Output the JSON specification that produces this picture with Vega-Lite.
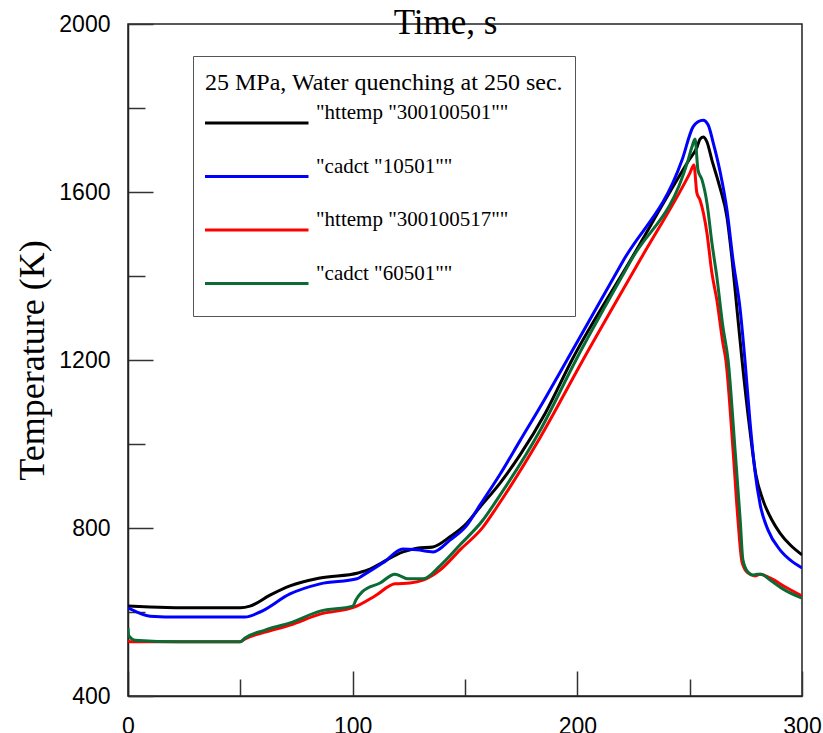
{
  "$schema": "https://vega.github.io/schema/vega-lite/v6.json",
  "width": 674,
  "height": 672,
  "autosize": {"type": "none"},
  "padding": {"left": 128, "top": 24, "right": 21, "bottom": 37},
  "background": "white",
  "config": {
    "view": {"stroke": "#222", "strokeWidth": 1.5},
    "axis": {"grid": false}
  },
  "data": {
    "values": [
      {"series": "\"httemp \"300100501\"\"", "t": 0, "temp": 614},
      {"series": "\"httemp \"300100501\"\"", "t": 9.8, "temp": 612},
      {"series": "\"httemp \"300100501\"\"", "t": 32, "temp": 610},
      {"series": "\"httemp \"300100501\"\"", "t": 50, "temp": 610},
      {"series": "\"httemp \"300100501\"\"", "t": 54.3, "temp": 614},
      {"series": "\"httemp \"300100501\"\"", "t": 63.2, "temp": 640},
      {"series": "\"httemp \"300100501\"\"", "t": 72.1, "temp": 662},
      {"series": "\"httemp \"300100501\"\"", "t": 85.5, "temp": 681},
      {"series": "\"httemp \"300100501\"\"", "t": 102.4, "temp": 693},
      {"series": "\"httemp \"300100501\"\"", "t": 107.7, "temp": 702},
      {"series": "\"httemp \"300100501\"\"", "t": 113.5, "temp": 719},
      {"series": "\"httemp \"300100501\"\"", "t": 122.4, "temp": 743},
      {"series": "\"httemp \"300100501\"\"", "t": 128.6, "temp": 752},
      {"series": "\"httemp \"300100501\"\"", "t": 135.8, "temp": 755},
      {"series": "\"httemp \"300100501\"\"", "t": 143.3, "temp": 779},
      {"series": "\"httemp \"300100501\"\"", "t": 150.9, "temp": 812},
      {"series": "\"httemp \"300100501\"\"", "t": 156.7, "temp": 850},
      {"series": "\"httemp \"300100501\"\"", "t": 165.6, "temp": 907},
      {"series": "\"httemp \"300100501\"\"", "t": 174.5, "temp": 974},
      {"series": "\"httemp \"300100501\"\"", "t": 185.6, "temp": 1072},
      {"series": "\"httemp \"300100501\"\"", "t": 197.6, "temp": 1200},
      {"series": "\"httemp \"300100501\"\"", "t": 223.7, "temp": 1438},
      {"series": "\"httemp \"300100501\"\"", "t": 249.7, "temp": 1676},
      {"series": "\"httemp \"300100501\"\"", "t": 253.3, "temp": 1707},
      {"series": "\"httemp \"300100501\"\"", "t": 254.6, "temp": 1726},
      {"series": "\"httemp \"300100501\"\"", "t": 256, "temp": 1731},
      {"series": "\"httemp \"300100501\"\"", "t": 257.7, "temp": 1719},
      {"series": "\"httemp \"300100501\"\"", "t": 259.9, "temp": 1676},
      {"series": "\"httemp \"300100501\"\"", "t": 263.4, "temp": 1612},
      {"series": "\"httemp \"300100501\"\"", "t": 266.6, "temp": 1540},
      {"series": "\"httemp \"300100501\"\"", "t": 268.9, "temp": 1438},
      {"series": "\"httemp \"300100501\"\"", "t": 271.1, "temp": 1319},
      {"series": "\"httemp \"300100501\"\"", "t": 273.3, "temp": 1200},
      {"series": "\"httemp \"300100501\"\"", "t": 276.8, "temp": 1033},
      {"series": "\"httemp \"300100501\"\"", "t": 279.5, "temp": 926},
      {"series": "\"httemp \"300100501\"\"", "t": 282.6, "temp": 867},
      {"series": "\"httemp \"300100501\"\"", "t": 286.6, "temp": 819},
      {"series": "\"httemp \"300100501\"\"", "t": 290.2, "temp": 788},
      {"series": "\"httemp \"300100501\"\"", "t": 294.7, "temp": 760},
      {"series": "\"httemp \"300100501\"\"", "t": 300, "temp": 736},

      {"series": "\"cadct \"10501\"\"", "t": 0, "temp": 610},
      {"series": "\"cadct \"10501\"\"", "t": 3.1, "temp": 602},
      {"series": "\"cadct \"10501\"\"", "t": 9.8, "temp": 590},
      {"series": "\"cadct \"10501\"\"", "t": 23.1, "temp": 588},
      {"series": "\"cadct \"10501\"\"", "t": 52.1, "temp": 588},
      {"series": "\"cadct \"10501\"\"", "t": 58.8, "temp": 600},
      {"series": "\"cadct \"10501\"\"", "t": 72.1, "temp": 643},
      {"series": "\"cadct \"10501\"\"", "t": 85.5, "temp": 667},
      {"series": "\"cadct \"10501\"\"", "t": 101.9, "temp": 679},
      {"series": "\"cadct \"10501\"\"", "t": 104.2, "temp": 686},
      {"series": "\"cadct \"10501\"\"", "t": 113.5, "temp": 717},
      {"series": "\"cadct \"10501\"\"", "t": 122.4, "temp": 750},
      {"series": "\"cadct \"10501\"\"", "t": 128.6, "temp": 748},
      {"series": "\"cadct \"10501\"\"", "t": 135.8, "temp": 743},
      {"series": "\"cadct \"10501\"\"", "t": 143.3, "temp": 771},
      {"series": "\"cadct \"10501\"\"", "t": 150.9, "temp": 807},
      {"series": "\"cadct \"10501\"\"", "t": 156.7, "temp": 855},
      {"series": "\"cadct \"10501\"\"", "t": 165.6, "temp": 928},
      {"series": "\"cadct \"10501\"\"", "t": 174.5, "temp": 1008},
      {"series": "\"cadct \"10501\"\"", "t": 185.6, "temp": 1108},
      {"series": "\"cadct \"10501\"\"", "t": 195.4, "temp": 1200},
      {"series": "\"cadct \"10501\"\"", "t": 220.6, "temp": 1438},
      {"series": "\"cadct \"10501\"\"", "t": 246.6, "temp": 1676},
      {"series": "\"cadct \"10501\"\"", "t": 251.5, "temp": 1755},
      {"series": "\"cadct \"10501\"\"", "t": 253.7, "temp": 1767},
      {"series": "\"cadct \"10501\"\"", "t": 256, "temp": 1771},
      {"series": "\"cadct \"10501\"\"", "t": 258.2, "temp": 1760},
      {"series": "\"cadct \"10501\"\"", "t": 260.4, "temp": 1719},
      {"series": "\"cadct \"10501\"\"", "t": 263.4, "temp": 1652},
      {"series": "\"cadct \"10501\"\"", "t": 266.6, "temp": 1557},
      {"series": "\"cadct \"10501\"\"", "t": 269.3, "temp": 1438},
      {"series": "\"cadct \"10501\"\"", "t": 272.5, "temp": 1319},
      {"series": "\"cadct \"10501\"\"", "t": 274.6, "temp": 1200},
      {"series": "\"cadct \"10501\"\"", "t": 276.8, "temp": 1057},
      {"series": "\"cadct \"10501\"\"", "t": 279, "temp": 938},
      {"series": "\"cadct \"10501\"\"", "t": 281.4, "temp": 855},
      {"series": "\"cadct \"10501\"\"", "t": 284.9, "temp": 795},
      {"series": "\"cadct \"10501\"\"", "t": 290.2, "temp": 748},
      {"series": "\"cadct \"10501\"\"", "t": 294.7, "temp": 724},
      {"series": "\"cadct \"10501\"\"", "t": 300, "temp": 705},

      {"series": "\"httemp \"300100517\"\"", "t": 0, "temp": 533},
      {"series": "\"httemp \"300100517\"\"", "t": 0.9, "temp": 529},
      {"series": "\"httemp \"300100517\"\"", "t": 49.9, "temp": 529},
      {"series": "\"httemp \"300100517\"\"", "t": 52.1, "temp": 536},
      {"series": "\"httemp \"300100517\"\"", "t": 61, "temp": 552},
      {"series": "\"httemp \"300100517\"\"", "t": 72.1, "temp": 569},
      {"series": "\"httemp \"300100517\"\"", "t": 85.5, "temp": 595},
      {"series": "\"httemp \"300100517\"\"", "t": 101, "temp": 612},
      {"series": "\"httemp \"300100517\"\"", "t": 109.9, "temp": 638},
      {"series": "\"httemp \"300100517\"\"", "t": 118.8, "temp": 667},
      {"series": "\"httemp \"300100517\"\"", "t": 125.5, "temp": 669},
      {"series": "\"httemp \"300100517\"\"", "t": 131.3, "temp": 676},
      {"series": "\"httemp \"300100517\"\"", "t": 138.9, "temp": 700},
      {"series": "\"httemp \"300100517\"\"", "t": 147.8, "temp": 748},
      {"series": "\"httemp \"300100517\"\"", "t": 158, "temp": 802},
      {"series": "\"httemp \"300100517\"\"", "t": 164.2, "temp": 850},
      {"series": "\"httemp \"300100517\"\"", "t": 183.4, "temp": 1015},
      {"series": "\"httemp \"300100517\"\"", "t": 202.5, "temp": 1200},
      {"series": "\"httemp \"300100517\"\"", "t": 227.9, "temp": 1438},
      {"series": "\"httemp \"300100517\"\"", "t": 250.1, "temp": 1645},
      {"series": "\"httemp \"300100517\"\"", "t": 251.9, "temp": 1664},
      {"series": "\"httemp \"300100517\"\"", "t": 253.2, "temp": 1598},
      {"series": "\"httemp \"300100517\"\"", "t": 254.6, "temp": 1581},
      {"series": "\"httemp \"300100517\"\"", "t": 257.7, "temp": 1502},
      {"series": "\"httemp \"300100517\"\"", "t": 259.9, "temp": 1407},
      {"series": "\"httemp \"300100517\"\"", "t": 262.1, "temp": 1343},
      {"series": "\"httemp \"300100517\"\"", "t": 264.8, "temp": 1240},
      {"series": "\"httemp \"300100517\"\"", "t": 266.1, "temp": 1200},
      {"series": "\"httemp \"300100517\"\"", "t": 269.3, "temp": 986},
      {"series": "\"httemp \"300100517\"\"", "t": 271.5, "temp": 819},
      {"series": "\"httemp \"300100517\"\"", "t": 273.3, "temp": 719},
      {"series": "\"httemp \"300100517\"\"", "t": 275.9, "temp": 693},
      {"series": "\"httemp \"300100517\"\"", "t": 279, "temp": 686},
      {"series": "\"httemp \"300100517\"\"", "t": 281.3, "temp": 690},
      {"series": "\"httemp \"300100517\"\"", "t": 285.8, "temp": 681},
      {"series": "\"httemp \"300100517\"\"", "t": 292.4, "temp": 660},
      {"series": "\"httemp \"300100517\"\"", "t": 300, "temp": 638},

      {"series": "\"cadct \"60501\"\"", "t": 0, "temp": 562},
      {"series": "\"cadct \"60501\"\"", "t": 0.4, "temp": 543},
      {"series": "\"cadct \"60501\"\"", "t": 3.1, "temp": 533},
      {"series": "\"cadct \"60501\"\"", "t": 23.1, "temp": 529},
      {"series": "\"cadct \"60501\"\"", "t": 49.9, "temp": 529},
      {"series": "\"cadct \"60501\"\"", "t": 52.1, "temp": 538},
      {"series": "\"cadct \"60501\"\"", "t": 61, "temp": 557},
      {"series": "\"cadct \"60501\"\"", "t": 72.1, "temp": 574},
      {"series": "\"cadct \"60501\"\"", "t": 85.5, "temp": 602},
      {"series": "\"cadct \"60501\"\"", "t": 100.1, "temp": 614},
      {"series": "\"cadct \"60501\"\"", "t": 101.5, "temp": 629},
      {"series": "\"cadct \"60501\"\"", "t": 104.2, "temp": 648},
      {"series": "\"cadct \"60501\"\"", "t": 112.2, "temp": 669},
      {"series": "\"cadct \"60501\"\"", "t": 118.8, "temp": 690},
      {"series": "\"cadct \"60501\"\"", "t": 121.1, "temp": 686},
      {"series": "\"cadct \"60501\"\"", "t": 124.6, "temp": 679},
      {"series": "\"cadct \"60501\"\"", "t": 131.3, "temp": 679},
      {"series": "\"cadct \"60501\"\"", "t": 138.9, "temp": 710},
      {"series": "\"cadct \"60501\"\"", "t": 147.8, "temp": 760},
      {"series": "\"cadct \"60501\"\"", "t": 158, "temp": 819},
      {"series": "\"cadct \"60501\"\"", "t": 164.2, "temp": 867},
      {"series": "\"cadct \"60501\"\"", "t": 183.4, "temp": 1032},
      {"series": "\"cadct \"60501\"\"", "t": 199.4, "temp": 1200},
      {"series": "\"cadct \"60501\"\"", "t": 224, "temp": 1438},
      {"series": "\"cadct \"60501\"\"", "t": 249.3, "temp": 1676},
      {"series": "\"cadct \"60501\"\"", "t": 251, "temp": 1707},
      {"series": "\"cadct \"60501\"\"", "t": 252.4, "temp": 1726},
      {"series": "\"cadct \"60501\"\"", "t": 253.7, "temp": 1652},
      {"series": "\"cadct \"60501\"\"", "t": 255.5, "temp": 1629},
      {"series": "\"cadct \"60501\"\"", "t": 257.7, "temp": 1574},
      {"series": "\"cadct \"60501\"\"", "t": 259.9, "temp": 1479},
      {"series": "\"cadct \"60501\"\"", "t": 262.1, "temp": 1398},
      {"series": "\"cadct \"60501\"\"", "t": 264.8, "temp": 1279},
      {"series": "\"cadct \"60501\"\"", "t": 267.1, "temp": 1200},
      {"series": "\"cadct \"60501\"\"", "t": 270.2, "temp": 986},
      {"series": "\"cadct \"60501\"\"", "t": 272.5, "temp": 819},
      {"series": "\"cadct \"60501\"\"", "t": 273.7, "temp": 724},
      {"series": "\"cadct \"60501\"\"", "t": 275.9, "temp": 695},
      {"series": "\"cadct \"60501\"\"", "t": 278.2, "temp": 688},
      {"series": "\"cadct \"60501\"\"", "t": 280, "temp": 690},
      {"series": "\"cadct \"60501\"\"", "t": 281.7, "temp": 690},
      {"series": "\"cadct \"60501\"\"", "t": 285.8, "temp": 676},
      {"series": "\"cadct \"60501\"\"", "t": 292.4, "temp": 652},
      {"series": "\"cadct \"60501\"\"", "t": 300, "temp": 633}
    ]
  },
  "mark": {"type": "line", "strokeWidth": 3, "interpolate": "monotone", "clip": true},
  "encoding": {
    "x": {
      "field": "t", "type": "quantitative",
      "scale": {"domain": [0, 300], "nice": false, "zero": false},
      "axis": {
        "orient": "bottom",
        "values": [0, 50, 100, 150, 200, 250, 300],
        "labelExpr": "datum.value % 100 === 0 ? datum.label : ''",
        "tickSize": {"expr": "datum.value % 100 === 0 ? -25 : -17"},
        "labelPadding": 44,
        "labelFont": "Liberation Sans", "labelFontSize": 23, "labelColor": "black",
        "labelFlush": false, "labelOverlap": false,
        "domainColor": "#222", "domainWidth": 1.5,
        "tickColor": "#333", "tickWidth": 1.5,
        "title": "Time, s",
        "titleFont": "Liberation Serif", "titleFontSize": 35, "titleFontWeight": "normal", "titleColor": "black",
        "titleX": 317, "titleY": -663, "titleBaseline": "alphabetic", "titleAlign": "center"
      }
    },
    "y": {
      "field": "temp", "type": "quantitative",
      "scale": {"domain": [400, 2000], "nice": false, "zero": false},
      "axis": {
        "orient": "left",
        "values": [400, 600, 800, 1000, 1200, 1400, 1600, 1800, 2000],
        "labelExpr": "datum.value % 400 === 0 ? datum.label : ''",
        "format": "d",
        "tickSize": {"expr": "datum.value % 400 === 0 ? -25 : -17"},
        "labelPadding": 43,
        "labelFont": "Liberation Sans", "labelFontSize": 23, "labelColor": "black",
        "labelFlush": false, "labelOverlap": false,
        "domainColor": "#222", "domainWidth": 1.5,
        "tickColor": "#333", "tickWidth": 1.5,
        "title": "Temperature (K)",
        "titleFont": "Liberation Serif", "titleFontSize": 36, "titleFontWeight": "normal", "titleColor": "black",
        "titleX": -85, "titleY": 336, "titleBaseline": "alphabetic", "titleAlign": "center", "titleAngle": 270
      }
    },
    "color": {
      "field": "series", "type": "nominal",
      "scale": {
        "domain": ["\"httemp \"300100501\"\"", "\"cadct \"10501\"\"", "\"httemp \"300100517\"\"", "\"cadct \"60501\"\""],
        "range": ["#000000", "#0000ff", "#ff0000", "#0a6b35"]
      },
      "legend": {
        "orient": "none", "legendX": 65, "legendY": 32,
        "title": "25 MPa, Water quenching at 250 sec.",
        "titleFont": "Liberation Serif", "titleFontSize": 24, "titleFontWeight": "normal", "titleColor": "black",
        "titleBaseline": "line-top", "titleLineHeight": 30, "titlePadding": 11, "titleLimit": 600,
        "labelFont": "Liberation Serif", "labelFontSize": 21, "labelColor": "black",
        "labelBaseline": "bottom", "labelOffset": 6, "labelLimit": 500,
        "symbolType": "stroke", "symbolSize": 11025, "symbolStrokeWidth": 3, "symbolOffset": -3,
        "clipHeight": 40, "rowPadding": 12.5,
        "padding": 12, "strokeColor": "#555", "fillColor": "white"
      }
    },
    "order": {"field": "t", "type": "quantitative"}
  }
}
